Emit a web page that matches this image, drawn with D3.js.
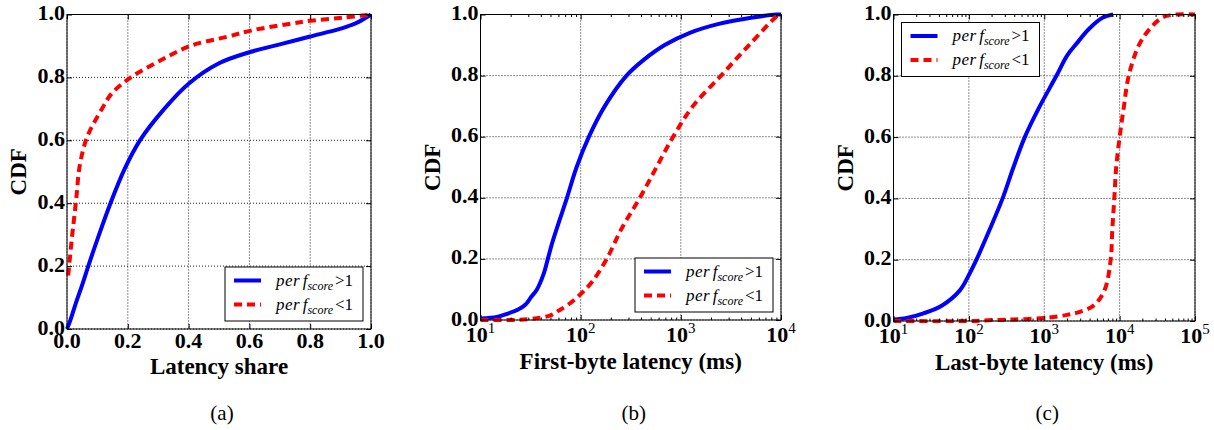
<!DOCTYPE html>
<html>
<head>
<meta charset="utf-8">
<script src="https://cdn.jsdelivr.net/npm/d3@7"></script>
<style>
  body { margin: 0; background: #fff; }
  svg text { font-family: "Liberation Serif", "DejaVu Serif", serif; }
</style>
</head>
<body>
<div class="chart"></div>
<script>
// ---- data ----
var yTicks = [0, 0.2, 0.4, 0.6, 0.8, 1.0];
var shareTicks = [0, 0.2, 0.4, 0.6, 0.8, 1.0];
var firstByteDecades = [1, 2, 3, 4];
var lastByteDecades = [1, 2, 3, 4, 5];
var seriesNames = ["perf_score >1", "perf_score <1"];

// (a) latency share
var shareAbove = [[0, 0], [0.01, 0.025], [0.03, 0.085], [0.05, 0.14], [0.07, 0.2], [0.1, 0.285],
  [0.143, 0.4], [0.19, 0.51], [0.24, 0.6], [0.32, 0.7], [0.4, 0.78], [0.5, 0.845],
  [0.6, 0.88], [0.7, 0.905], [0.8, 0.93], [0.9, 0.955], [0.95, 0.972], [1.0, 1.0]];
var shareBelow = [[0.004, 0.17], [0.01, 0.23], [0.016, 0.29], [0.022, 0.34], [0.031, 0.42],
  [0.042, 0.52], [0.066, 0.61], [0.115, 0.7], [0.148, 0.75], [0.21, 0.8], [0.3, 0.85],
  [0.405, 0.9], [0.53, 0.93], [0.61, 0.95], [0.73, 0.97], [0.8, 0.98], [0.91, 0.99], [1.0, 1.0]];

// (b) first-byte latency (ms)
var firstAbove = [[10, 0.005], [14.6, 0.01], [18.4, 0.02], [24, 0.035], [28, 0.05], [32, 0.075],
  [36.6, 0.1], [42.6, 0.15], [47, 0.2], [51.7, 0.25], [57.8, 0.3], [65, 0.35], [73, 0.4],
  [91, 0.5], [121, 0.6], [174, 0.7], [287, 0.8], [420, 0.85], [690, 0.9], [1230, 0.94],
  [2450, 0.97], [5200, 0.99], [9000, 1.0], [10000, 1.0]];
var firstBelow = [[10, 0.0], [20, 0.0], [30, 0.003], [40, 0.008], [50, 0.015], [60, 0.03],
  [75, 0.05], [100, 0.085], [130, 0.125], [182, 0.2], [257, 0.3], [390, 0.4], [571, 0.5],
  [838, 0.6], [1320, 0.7], [2520, 0.8], [4800, 0.9], [9600, 1.0], [10000, 1.0]];

// (c) last-byte latency (ms)
var lastAbove = [[10, 0.005], [15, 0.01], [25, 0.025], [43.6, 0.05], [76, 0.1], [100, 0.15],
  [126, 0.2], [190, 0.3], [280, 0.4], [388, 0.5], [552, 0.6], [870, 0.7], [1450, 0.8],
  [2000, 0.865], [2680, 0.905], [4000, 0.955], [6000, 0.99], [8200, 1.0]];
var lastBelow = [[10, 0.0], [100, 0.0], [200, 0.003], [400, 0.005], [1000, 0.01], [2000, 0.02],
  [2960, 0.03], [4500, 0.05], [6300, 0.1], [7600, 0.2], [8000, 0.3], [8500, 0.4], [9000, 0.5],
  [10000, 0.6], [11400, 0.7], [13200, 0.8], [18000, 0.9], [24500, 0.95], [37000, 0.99],
  [56000, 1.0], [100000, 1.0]];

var svgWidth = 1214;
var svgHeight = 430;
var serif = "'Liberation Serif', 'DejaVu Serif', serif";

var svg = d3.select(".chart")
  .append("svg")
  .attr("width", svgWidth)
  .attr("height", svgHeight)
  .attr("font-family", serif);

var panels = [
  { left: 67, top: 14.5, width: 304, height: 314.5, log: false,
    domain: [0, 1], label: "Latency share", caption: "(a)",
    series: [shareAbove, shareBelow], legend: "bottom-right", yLabelX: 18 },
  { left: 480.5, top: 14.5, width: 300.5, height: 305.5, log: true,
    domain: [10, 10000], decades: firstByteDecades, label: "First-byte latency (ms)", caption: "(b)",
    series: [firstAbove, firstBelow], legend: "bottom-right", yLabelX: 432 },
  { left: 893.5, top: 14.5, width: 301.5, height: 306.5, log: true,
    domain: [10, 100000], decades: lastByteDecades, label: "Last-byte latency (ms)", caption: "(c)",
    series: [lastAbove, lastBelow], legend: "top-left", yLabelX: 845 }
];

var styles = [
  { color: "#0000ff", dash: null },
  { color: "#ff0000", dash: "8,5" }
];

panels.forEach(function(p, i) {
  var g = svg.append("g")
    .attr("transform", `translate(${p.left}, ${p.top})`);

  var x = p.log
    ? d3.scaleLog().domain(p.domain).range([0, p.width])
    : d3.scaleLinear().domain(p.domain).range([0, p.width]);
  var y = d3.scaleLinear().domain([0, 1]).range([p.height, 0]);

  var majorX = p.log ? p.decades.map(d => Math.pow(10, d)) : shareTicks;
  var minorX = p.log ? x.ticks().filter(v => majorX.indexOf(v) < 0) : [];

  // dotted grid
  g.append("g").selectAll("line")
    .data(majorX)
    .enter().append("line")
    .attr("x1", d => x(d)).attr("x2", d => x(d))
    .attr("y1", 0).attr("y2", p.height)
    .attr("stroke", "#000").attr("stroke-width", 0.9)
    .attr("stroke-dasharray", "1,2");
  g.append("g").selectAll("line")
    .data(yTicks)
    .enter().append("line")
    .attr("x1", 0).attr("x2", p.width)
    .attr("y1", d => y(d)).attr("y2", d => y(d))
    .attr("stroke", "#000").attr("stroke-width", 0.9)
    .attr("stroke-dasharray", "1,2");

  // curves
  var clipId = "clip" + i;
  g.append("clipPath").attr("id", clipId)
    .append("rect").attr("x", -2).attr("y", -3)
    .attr("width", p.width + 4).attr("height", p.height + 5);

  var line = d3.line()
    .x(d => x(d[0]))
    .y(d => y(d[1]))
    .curve(d3.curveCatmullRom.alpha(0.5));

  p.series.forEach(function(s, k) {
    g.append("path")
      .datum(s)
      .attr("clip-path", `url(#${clipId})`)
      .attr("d", line)
      .attr("fill", "none")
      .attr("stroke", styles[k].color)
      .attr("stroke-width", 4)
      .attr("stroke-dasharray", styles[k].dash);
  });

  // ticks inside on all four sides
  function noText(axisG) {
    axisG.select(".domain").remove();
    axisG.selectAll("text").remove();
    axisG.selectAll("line").attr("stroke", "#000");
  }
  g.append("g").attr("transform", `translate(0, ${p.height})`)
    .call(d3.axisBottom(x).tickValues(majorX).tickSizeInner(-5).tickSizeOuter(0)).call(noText);
  g.append("g")
    .call(d3.axisTop(x).tickValues(majorX).tickSizeInner(-5).tickSizeOuter(0)).call(noText);
  if (minorX.length) {
    g.append("g").attr("transform", `translate(0, ${p.height})`)
      .call(d3.axisBottom(x).tickValues(minorX).tickSizeInner(-2.5).tickSizeOuter(0)).call(noText);
    g.append("g")
      .call(d3.axisTop(x).tickValues(minorX).tickSizeInner(-2.5).tickSizeOuter(0)).call(noText);
  }
  g.append("g")
    .call(d3.axisLeft(y).tickValues(yTicks).tickSizeInner(-5).tickSizeOuter(0)).call(noText);
  g.append("g").attr("transform", `translate(${p.width}, 0)`)
    .call(d3.axisRight(y).tickValues(yTicks).tickSizeInner(-5).tickSizeOuter(0)).call(noText);

  // frame
  g.append("rect")
    .attr("width", p.width).attr("height", p.height)
    .attr("fill", "none").attr("stroke", "#000").attr("stroke-width", 1);

  // y tick labels
  g.append("g").selectAll("text")
    .data(yTicks)
    .enter().append("text")
    .attr("x", -2)
    .attr("y", d => y(d) + 5.5)
    .attr("text-anchor", "end")
    .attr("font-size", 22)
    .attr("font-weight", "bold")
    .text(d3.format(".1f"));

  // x tick labels
  var xl = g.append("g").selectAll("text")
    .data(majorX)
    .enter().append("text")
    .attr("x", d => x(d))
    .attr("y", p.log ? p.height + 22 : p.height + 19)
    .attr("text-anchor", "middle")
    .attr("font-size", 22)
    .attr("font-weight", "bold");
  if (p.log) {
    xl.append("tspan").text("10");
    xl.append("tspan")
      .attr("dy", -9)
      .attr("font-size", 15)
      .attr("font-weight", "normal")
      .text(d => Math.round(Math.log10(d)));
  } else {
    xl.text(d3.format(".1f"));
  }

  // axis titles
  g.append("text")
    .attr("x", p.width / 2)
    .attr("y", p.log ? p.height + 49 : p.height + 44.5)
    .attr("text-anchor", "middle")
    .attr("font-size", 23)
    .attr("font-weight", "bold")
    .text(p.label);

  svg.append("text")
    .attr("transform", `translate(${p.yLabelX + 8}, ${p.top + p.height / 2}) rotate(-90)`)
    .attr("text-anchor", "middle")
    .attr("font-size", 23)
    .attr("font-weight", "bold")
    .text("CDF");

  // caption
  svg.append("text")
    .attr("x", p.left + p.width / 2 + 3)
    .attr("y", 420)
    .attr("text-anchor", "middle")
    .attr("font-size", 21)
    .text(p.caption);

  // legend
  var lw = 138, lh = 54, inset = 8;
  var lx = p.legend === "top-left" ? inset : p.width - inset - lw;
  var ly = p.legend === "top-left" ? inset : p.height - inset - lh;
  var lg = g.append("g").attr("transform", `translate(${lx}, ${ly})`);
  lg.append("rect")
    .attr("width", lw).attr("height", lh)
    .attr("fill", "#fff").attr("stroke", "#000").attr("stroke-width", 1);

  seriesNames.forEach(function(name, k) {
    var ry = 13.5 + k * 24;
    lg.append("line")
      .attr("x1", 9).attr("x2", 36)
      .attr("y1", ry).attr("y2", ry)
      .attr("stroke", styles[k].color)
      .attr("stroke-width", 4)
      .attr("stroke-dasharray", styles[k].dash);
    var parts = name.split(/[_ ]/);
    var t = lg.append("text")
      .attr("x", 51).attr("y", ry + 5)
      .attr("font-size", 17);
    t.append("tspan").attr("font-style", "italic").attr("letter-spacing", 0.5).text("per");
    t.append("tspan").attr("font-style", "italic").attr("dx", 2.5).text("f");
    t.append("tspan").attr("font-style", "italic").attr("font-size", 12)
      .attr("dy", 4).text(parts[1]);
    t.append("tspan").attr("dy", -4).attr("dx", 2).text(parts[2]);
  });
});
</script>
</body>
</html>
